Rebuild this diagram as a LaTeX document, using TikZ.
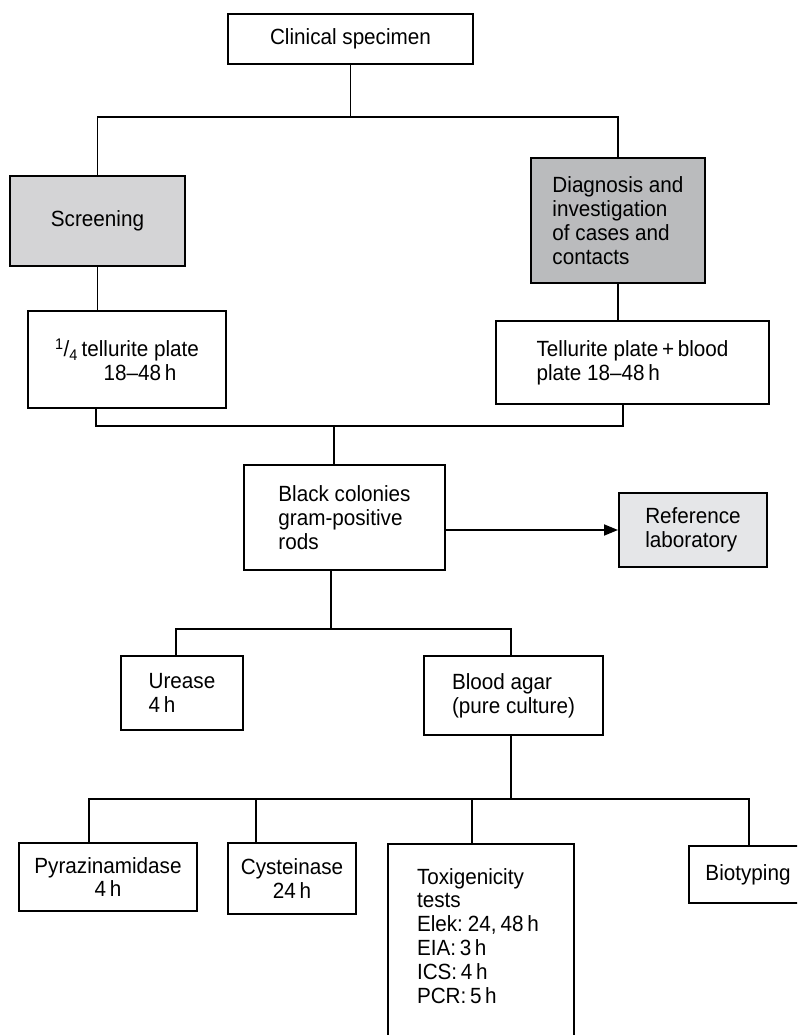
\documentclass[tikz,border=0pt]{standalone}
\usepackage{fontspec}
\setmainfont[FakeStretch=0.94]{Liberation Sans}
\usetikzlibrary{arrows.meta}
\definecolor{screengrey}{HTML}{D4D4D6}
\definecolor{casegrey}{HTML}{BABBBD}
\definecolor{refgrey}{HTML}{E5E6E8}
\tikzset{
    %Define standard arrow tip
    >={Triangle[length=14pt,width=11pt]},
    %Define style for boxes
    stage/.style={
           rectangle,
           draw=black, line width=2pt,
           inner sep=0pt,
           font=\fontsize{22}{23.8}\selectfont\frenchspacing,
           align=left},
    screenbox/.style={
           stage,
           align=center,
           fill=screengrey},
    casebox/.style={
           stage,
           fill=casegrey},
    refbox/.style={
           stage,
           fill=refgrey},
    % Define connector style
    link/.style={
           line width=1.8pt}
}
\begin{document}
\begin{tikzpicture}[x=1pt,y=-1pt]
\path[use as bounding box, clip] (0,0) rectangle (797,1035);
 %nodes
\node[stage, align=center, minimum width=245pt, minimum height=50pt] (clinical) at (350.5,39) {Clinical specimen};
\node[screenbox, minimum width=175pt, minimum height=90pt] (screening) at (97.5,221) {Screening};
\node[casebox, minimum width=174pt, minimum height=125pt] (diagnosis) at (618,220.5) {Diagnosis and\\investigation\\of cases and\\contacts};
\node[stage, align=center, minimum width=198pt, minimum height=97pt] (quarter) at (127,359.5) {\textsuperscript{1}/\textsubscript{4}\,tellurite plate\\\hspace*{26pt}18--48\,h};
\node[stage, minimum width=273pt, minimum height=83pt] (tellurite) at (632.5,362.5) {Tellurite plate\,+\,blood\\plate 18--48\,h};
\node[stage, minimum width=201pt, minimum height=105pt] (black) at (344.5,517.5) {Black colonies\\gram-positive\\rods};
\node[refbox, minimum width=148pt, minimum height=74pt] (reflab) at (693,530) {Reference\\laboratory};
\node[stage, minimum width=122pt, minimum height=74pt] (urease) at (182,693) {Urease\\4\,h};
\node[stage, minimum width=179pt, minimum height=79pt] (agar) at (513.5,695.5) {Blood agar\\(pure culture)};
\node[stage, align=center, minimum width=178pt, minimum height=68pt] (pyrazin) at (108,877) {Pyrazinamidase\\4\,h};
\node[stage, align=center, minimum width=128pt, minimum height=71pt] (cysteinase) at (292,878.5) {Cysteinase\\24\,h};
\node[stage, anchor=north, minimum width=186pt, text width=128pt, text height=40pt, text depth=180pt] (toxi) at (481,843) {Toxigenicity\\tests\\Elek:\hspace{5pt}24,\hspace{4pt}48\,h\\EIA:\,3\,h\\ICS:\,4\,h\\PCR:\,5\,h};
\node[stage, anchor=west, minimum width=118pt, minimum height=57pt] (bio) at (688,874.5) {Biotyping};
 %junctions
\coordinate (j1) at (350.5,117);
\coordinate (j2) at (334,426);
\coordinate (j3) at (331,629);
\coordinate (j4) at (511,799);
\coordinate (c1) at ([xshift=-36pt]cysteinase.north);
\coordinate (c2) at ([xshift=-9pt]toxi.north);
 %connectors
\draw[link] (clinical) -- (j1);
\draw[link] (screening.north) |- (j1) -| (diagnosis.north);
\draw[link] (screening) -- (screening |- quarter.north);
\draw[link] (diagnosis) -- (diagnosis |- tellurite.north);
\draw[link] ([xshift=-31pt]quarter.south) |- (j2) -| ([xshift=-9.5pt]tellurite.south);
\draw[link] (j2) -- (j2 |- black.north);
\draw[link,->] (black.east |- reflab) -- (reflab);
\draw[link] (j3 |- black.south) -- (j3);
\draw[link] ([xshift=-6pt]urease.north) |- (j3) -| ([xshift=-2.5pt]agar.north);
\draw[link] ([xshift=-2.5pt]agar.south) -- (j4);
\draw[link] ([xshift=-19pt]pyrazin.north) |- (j4) -| ([xshift=1pt]bio.north);
\draw[link] (c1) -- (c1 |- j4);
\draw[link] (c2) -- (c2 |- j4);
\end{tikzpicture}
\end{document}
